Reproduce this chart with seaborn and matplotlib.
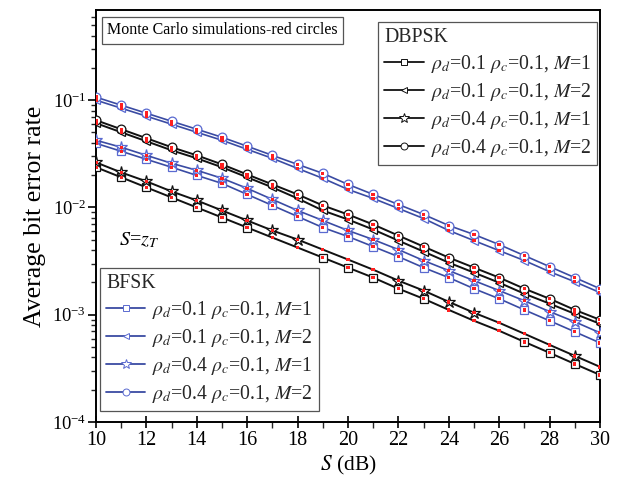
import matplotlib
matplotlib.use("Agg")
import matplotlib.pyplot as plt
from matplotlib.lines import Line2D
from matplotlib.ticker import LogLocator, MultipleLocator, NullFormatter, FixedLocator
import pandas as pd
import seaborn as sns

# SNR axis (dB)
snr_db = list(range(10, 31))

# DBPSK average BER
dbpsk_d01_m1 = [0.0237, 0.0191, 0.01538, 0.01240, 0.01000, 0.00806, 0.00650, 0.00524,
                0.00423, 0.00341, 0.00275, 0.00222, 0.00175, 0.00141, 0.00111, 0.000879,
                0.000709, 0.000559, 0.000442, 0.000348, 0.000275]
dbpsk_d01_m2 = [0.0610, 0.0502, 0.0414, 0.0341, 0.0287, 0.0237, 0.0191, 0.01538,
                0.01214, 0.00937, 0.00772, 0.00623, 0.00491, 0.00388, 0.00306, 0.00247,
                0.00199, 0.00157, 0.00127, 0.00102, 0.000824]
dbpsk_d04_m1 = [0.0263, 0.0212, 0.0175, 0.01411, 0.01162, 0.00937, 0.00756, 0.00610,
                0.00502, 0.00405, 0.00327, 0.00263, 0.00208, 0.00168, 0.00132, 0.001044,
                0.000842, 0.000665, 0.000524, 0.000414, 0.000327]
dbpsk_d04_m2 = [0.0650, 0.0536, 0.0442, 0.0364, 0.0306, 0.0252, 0.0203, 0.0164,
                0.01323, 0.01044, 0.00860, 0.00694, 0.00547, 0.00432, 0.00341, 0.00275,
                0.00222, 0.00175, 0.00141, 0.00111, 0.000898]

# BFSK average BER
bfsk_d01_m1 = [0.0396, 0.0334, 0.0281, 0.0237, 0.0199, 0.01676, 0.01323, 0.01044,
               0.00824, 0.00650, 0.00536, 0.00432, 0.00348, 0.00275, 0.00222, 0.00175,
               0.00141, 0.00111, 0.000879, 0.000694, 0.000547]
bfsk_d01_m2 = [0.1000, 0.0842, 0.0709, 0.0597, 0.0502, 0.0423, 0.0348, 0.0287,
               0.0231, 0.0187, 0.01473, 0.01214, 0.00979, 0.00789, 0.00610, 0.00491,
               0.00396, 0.00320, 0.00252, 0.00203, 0.00161]
bfsk_d04_m1 = [0.0423, 0.0364, 0.0306, 0.0258, 0.0222, 0.0187, 0.01506, 0.01188,
               0.00937, 0.00756, 0.00610, 0.00502, 0.00405, 0.00320, 0.00258, 0.00208,
               0.00168, 0.00135, 0.00107, 0.000860, 0.000679]
bfsk_d04_m2 = [0.1067, 0.0898, 0.0756, 0.0636, 0.0536, 0.0451, 0.0372, 0.0306,
               0.0252, 0.0208, 0.0164, 0.01323, 0.01066, 0.00860, 0.00679, 0.00560,
               0.00451, 0.00356, 0.00281, 0.00222, 0.00175]

labels = [r"$\rho_d$=0.1 $\rho_c$=0.1, $M$=1",
          r"$\rho_d$=0.1 $\rho_c$=0.1, $M$=2",
          r"$\rho_d$=0.4 $\rho_c$=0.1, $M$=1",
          r"$\rho_d$=0.4 $\rho_c$=0.1, $M$=2"]
markers = ["s", "<", "*", "o"]

sns.set_theme(style="ticks")
plt.rcParams["font.family"] = ["Liberation Serif", "DejaVu Serif"]
plt.rcParams["mathtext.fontset"] = "stix"

fig = plt.figure(figsize=(6.17, 4.84), dpi=100)
ax = fig.add_axes([0.1556, 0.128, 0.8168, 0.851])

black = "#111111"
blue_line = "#3a4ba3"
blue_mark = "#5a6ad0"

series = [
    ("DBPSK", dbpsk_d01_m1, 0, black, black, [0, 1, 2, 3, 4, 5, 6, 9, 10, 11, 12, 13, 17, 18, 19, 20]),
    ("DBPSK", dbpsk_d01_m2, 1, black, black, None),
    ("DBPSK", dbpsk_d04_m1, 2, black, black, [0, 1, 2, 3, 4, 5, 6, 7, 8, 12, 13, 14, 15, 19]),
    ("DBPSK", dbpsk_d04_m2, 3, black, black, None),
    ("BFSK", bfsk_d01_m1, 0, blue_line, blue_mark, None),
    ("BFSK", bfsk_d01_m2, 1, blue_line, blue_mark, None),
    ("BFSK", bfsk_d04_m1, 2, blue_line, blue_mark, None),
    ("BFSK", bfsk_d04_m2, 3, blue_line, blue_mark, None),
]

for scheme, ber, k, lc, mc, every in series:
    df = pd.DataFrame({"snr": snr_db, "ber": ber})
    ms = 9 if markers[k] == "*" else 6.3
    sns.lineplot(data=df, x="snr", y="ber", ax=ax, color=lc,
                 lw=1.4 if lc == black else 1.2,
                 marker=markers[k], markersize=ms, markerfacecolor="white",
                 markeredgecolor=mc, markeredgewidth=0.9,
                 markevery=every if every is not None else 1, zorder=3)
    # Monte Carlo samples
    sns.scatterplot(data=df, x="snr", y="ber", ax=ax, marker="s", s=6,
                    color="#ff2020", edgecolor="none", linewidth=0, zorder=5)

ax.set_yscale("log")
ax.set_xlim(10, 30)
ax.set_ylim(1e-4, 0.69)
ax.xaxis.set_major_locator(MultipleLocator(2))
ax.xaxis.set_minor_locator(MultipleLocator(1))
ax.yaxis.set_major_locator(FixedLocator([1e-4, 1e-3, 1e-2, 1e-1]))
ax.yaxis.set_minor_locator(LogLocator(base=10, subs=range(2, 10), numticks=20))
ax.yaxis.set_minor_formatter(NullFormatter())

for s in ax.spines.values():
    s.set_linewidth(1.4)
    s.set_color("black")

ax.tick_params(axis="x", which="major", direction="inout", length=9, width=1.2,
               labelsize=14.5, pad=2, colors="black")
ax.tick_params(axis="x", which="minor", direction="out", length=4, width=1.0)
ax.tick_params(axis="y", which="major", direction="out", length=6, width=1.2,
               labelsize=13.3, pad=1, colors="black")
ax.tick_params(axis="y", which="minor", direction="out", length=3.5, width=1.0)

ax.set_xlabel(r"$S$ (dB)", fontsize=15.5, labelpad=3, color="black")
ax.set_ylabel("Average bit error rate", fontsize=18.5, labelpad=4, color="black")

ax.text(0.022, 0.951, "Monte Carlo simulations-red circles", transform=ax.transAxes,
        fontsize=11.5, va="center", ha="left", color="black",
        bbox=dict(boxstyle="square,pad=0.35", fc="white", ec="#555555", lw=0.9), zorder=6)
ax.text(0.045, 0.44, r"$S$=$z_T$", transform=ax.transAxes, fontsize=14.5,
        va="center", ha="left", color="black")


def handles(lc, mc):
    return [Line2D([], [], color=lc, lw=1.3, marker=m, markersize=(7 if m == "*" else 5),
                   markerfacecolor="white", markeredgecolor=mc, markeredgewidth=0.7)
            for m in markers]


leg_kw = dict(fontsize=14.2, title_fontsize=14.2, frameon=True, fancybox=False,
              edgecolor="#555555", framealpha=1, handlelength=2.0, handletextpad=0.35,
              labelspacing=0.3, borderpad=0.3, borderaxespad=0, alignment="left")

leg1 = ax.legend(handles(black, black), labels, title="DBPSK", loc="upper right",
                 bbox_to_anchor=(0.994, 0.971), **leg_kw)
leg1.get_frame().set_linewidth(0.9)
ax.add_artist(leg1)
leg2 = ax.legend(handles(blue_line, blue_mark), labels, title="BFSK", loc="upper left",
                 bbox_to_anchor=(0.008, 0.374), **leg_kw)
leg2.get_frame().set_linewidth(0.9)

fig.savefig("out.png", dpi=100)
